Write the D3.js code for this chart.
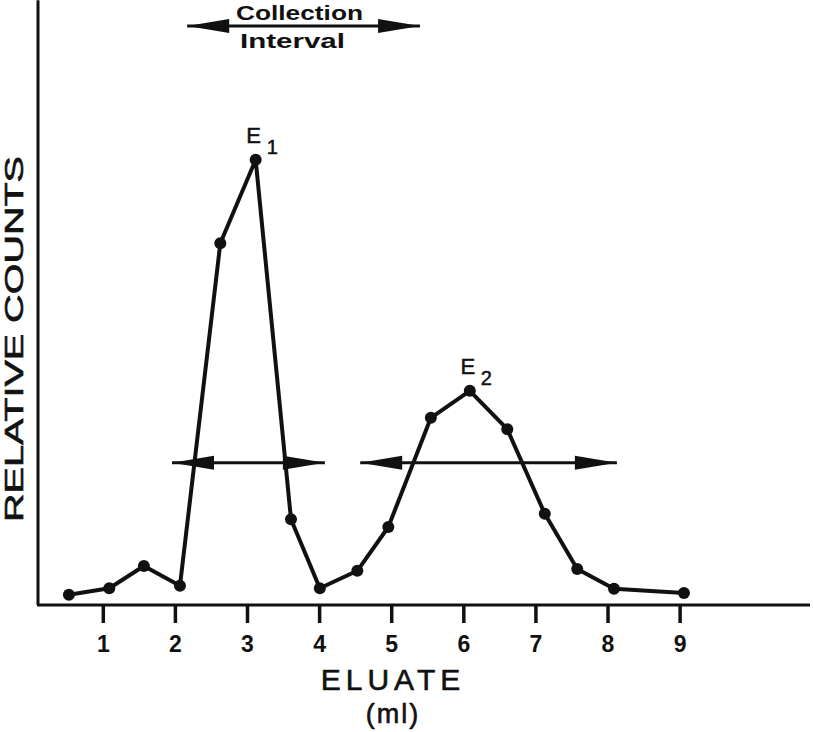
<!DOCTYPE html>
<head>
    <title>Eluate profile</title>
    <script src='https://cdn.jsdelivr.net/npm/d3@7/dist/d3.min.js'></script>
</head>
<style>
body {
  margin: 0;
  background: #fff;
  font-family: 'Liberation Sans', Arial, Helvetica, sans-serif;
}
</style>
<body>
    <svg></svg>
</body>

<script>

    // Data
    var eluateMl = [0.53, 1.09, 1.57, 2.07, 2.63, 3.12, 3.61, 4.01, 4.53, 4.96, 5.55, 6.09, 6.61, 7.13, 7.58, 8.09, 9.06];
    var relCounts = [1.7, 2.8, 6.5, 3.2, 60.3, 74.2, 14.3, 2.8, 5.7, 13.0, 31.2, 35.7, 29.3, 15.2, 6.0, 2.7, 2.0];
    var tickValues = [1, 2, 3, 4, 5, 6, 7, 8, 9];

    // Double arrows: [from ml, to ml, level]
    var arrowFrom = [1.96, 4.57, 2.17];
    var arrowTo = [4.08, 8.13, 5.40];
    var arrowLevel = [23.7, 23.7, 96.5];

    // Peak labels
    var peakNames = ['E', 'E'];
    var peakSubs = ['1', '2'];
    var peakIndex = [5, 11];

    var vWidth = 813;
    var vHeight = 732;
    var ink = '#111';

    var svg = d3.select('svg')
        .attr('width', vWidth)
        .attr('height', vHeight);

    var x = d3.scaleLinear().domain([0, 10.8]).range([30.7, 809.4]);
    var y = d3.scaleLinear().domain([0, 100]).range([605, 5]);

    // Axes (plain lines, ticks below)
    svg.append('line')
        .attr('x1', 38).attr('x2', 38)
        .attr('y1', y(100.8)).attr('y2', y(0))
        .style('stroke', ink).style('stroke-width', 3);

    var xAxis = d3.axisBottom(x)
        .tickValues(tickValues)
        .tickSize(18)
        .tickPadding(13)
        .tickSizeOuter(0);

    var gx = svg.append('g')
        .attr('transform', 'translate(0,' + y(0) + ')')
        .call(xAxis);
    gx.select('.domain').remove();
    gx.append('line')
        .attr('x1', 37).attr('x2', 810)
        .style('stroke', ink).style('stroke-width', 3);
    gx.selectAll('.tick line').style('stroke', ink).style('stroke-width', 3.5);
    gx.selectAll('.tick text')
        .attr('font-size', 23)
        .attr('font-weight', 'bold')
        .style('font-size', '23px')
        .style('font-weight', 'bold')
        .style('font-family', "'Liberation Sans', Arial, sans-serif")
        .style('fill', ink);

    // Axis titles
    svg.append('text')
        .attr('x', 393).attr('y', 690)
        .attr('text-anchor', 'middle')
        .style('font-size', '30px')
        .style('letter-spacing', '5px')
        .style('fill', ink)
        .style('stroke', ink).style('stroke-width', 0.6)
        .text('ELUATE');
    svg.append('text')
        .attr('x', 393).attr('y', 723)
        .attr('text-anchor', 'middle')
        .style('font-size', '27px')
        .style('letter-spacing', '2px')
        .style('fill', ink)
        .style('stroke', ink).style('stroke-width', 0.6)
        .text('(ml)');
    svg.append('text')
        .attr('transform', 'translate(23,339)rotate(-90)')
        .attr('text-anchor', 'middle')
        .attr('textLength', 366)
        .attr('lengthAdjust', 'spacingAndGlyphs')
        .style('font-size', '25px')
        .style('fill', ink)
        .style('stroke', ink).style('stroke-width', 0.6)
        .text('RELATIVE COUNTS');

    // Double-headed arrows
    var arrows = arrowFrom.map(function (d, i) { return { a: d, b: arrowTo[i], v: arrowLevel[i] }; });
    var ga = svg.append('g');
    arrows.forEach(function (d) {
        var ay = y(d.v), xa = x(d.a), xb = x(d.b);
        ga.append('line')
            .attr('x1', xa).attr('x2', xb).attr('y1', ay).attr('y2', ay)
            .style('stroke', ink).style('stroke-width', 3);
        ga.append('path')
            .attr('d', 'M' + xa + ',' + ay + 'L' + (xa + 42) + ',' + (ay - 7) + 'L' + (xa + 42) + ',' + (ay + 7) + 'Z')
            .style('fill', ink);
        ga.append('path')
            .attr('d', 'M' + xb + ',' + ay + 'L' + (xb - 42) + ',' + (ay - 7) + 'L' + (xb - 42) + ',' + (ay + 7) + 'Z')
            .style('fill', ink);
    });

    // Collection interval label
    svg.append('text')
        .attr('x', 236).attr('y', 20)
        .attr('textLength', 127)
        .attr('lengthAdjust', 'spacingAndGlyphs')
        .style('font-size', '20px').style('font-weight', 'bold')
        .style('fill', ink)
        .text('Collection');
    svg.append('text')
        .attr('x', 240).attr('y', 48)
        .attr('textLength', 105)
        .attr('lengthAdjust', 'spacingAndGlyphs')
        .style('font-size', '20px').style('font-weight', 'bold')
        .style('fill', ink)
        .text('Interval');

    // Data line and points
    var pts = eluateMl.map(function (d, i) { return [d, relCounts[i]]; });
    var line = d3.line()
        .x(function (d) { return x(d[0]); })
        .y(function (d) { return y(d[1]); });

    svg.append('path')
        .datum(pts)
        .attr('d', line)
        .style('fill', 'none')
        .style('stroke', ink)
        .style('stroke-width', 4)
        .style('stroke-linejoin', 'round');

    svg.selectAll('circle.pt')
        .data(pts)
        .enter().append('circle')
        .attr('class', 'pt')
        .attr('cx', function (d) { return x(d[0]); })
        .attr('cy', function (d) { return y(d[1]); })
        .attr('r', 6)
        .style('fill', ink);

    // Peak labels E1, E2
    var peaks = peakIndex.map(function (k, i) { return { p: pts[k], n: peakNames[i], s: peakSubs[i] }; });
    var gl = svg.selectAll('g.peak')
        .data(peaks)
        .enter().append('g')
        .attr('class', 'peak')
        .attr('transform', function (d) { return 'translate(' + x(d.p[0]) + ',' + y(d.p[1]) + ')'; });
    gl.append('text')
        .attr('x', -2).attr('y', -17)
        .attr('text-anchor', 'middle')
        .style('font-size', '22px')
        .style('fill', ink)
        .style('stroke', ink).style('stroke-width', 0.5)
        .text(function (d) { return d.n; });
    gl.append('text')
        .attr('x', 11).attr('y', -6)
        .style('font-size', '20px')
        .style('fill', ink)
        .style('stroke', ink).style('stroke-width', 0.5)
        .text(function (d) { return d.s; });

</script>
